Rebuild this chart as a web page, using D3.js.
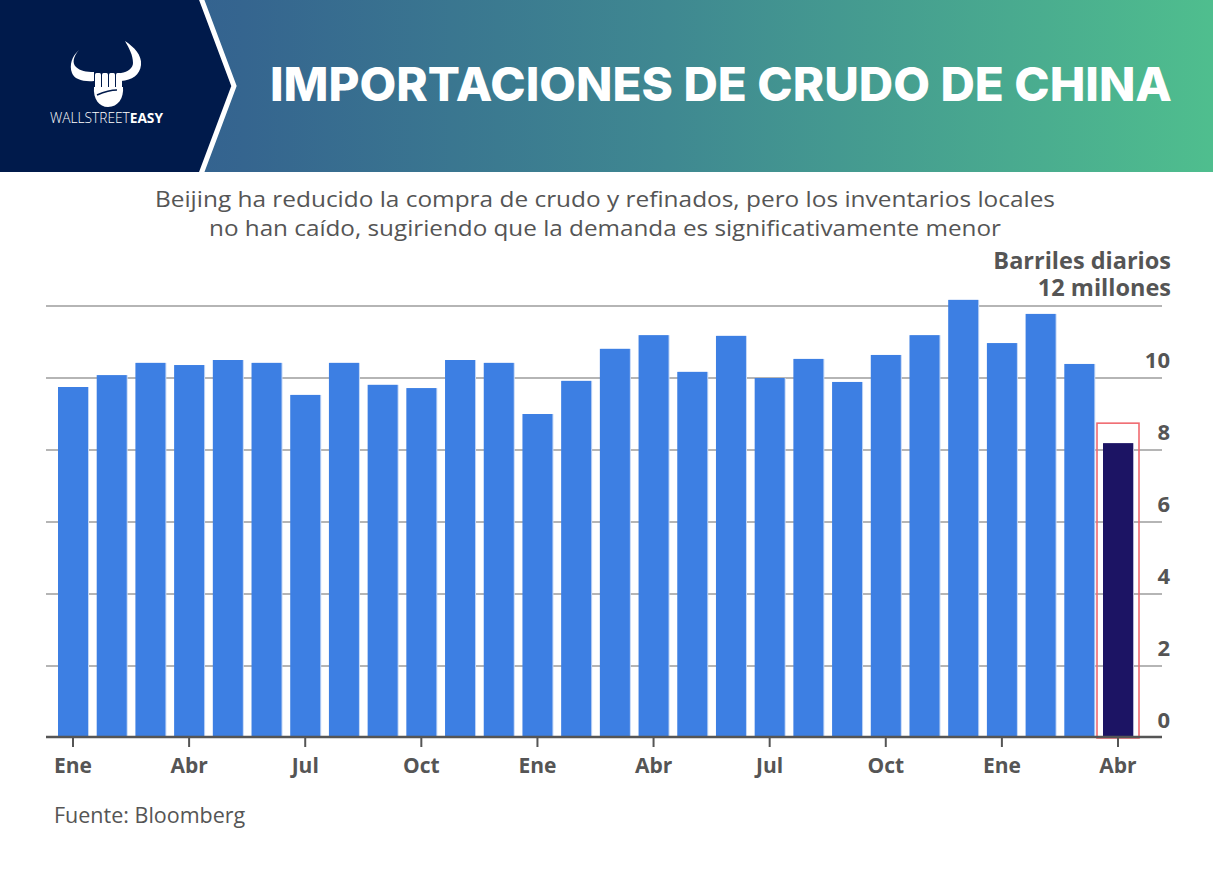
<!DOCTYPE html>
<html>
<head>
<meta charset="utf-8">
<script src="https://cdn.jsdelivr.net/npm/d3@7"></script>
<style>
  html, body { margin: 0; padding: 0; background: #fff; }
  svg { display: block; }
</style>
</head>
<body>
<svg id="chart" width="1213" height="879"></svg>
<script>
// Monthly crude imports, million barrels per day (Jan 2019 - Apr 2021)
const months = [
  '2019-01','2019-02','2019-03','2019-04','2019-05','2019-06',
  '2019-07','2019-08','2019-09','2019-10','2019-11','2019-12',
  '2020-01','2020-02','2020-03','2020-04','2020-05','2020-06',
  '2020-07','2020-08','2020-09','2020-10','2020-11','2020-12',
  '2021-01','2021-02','2021-03','2021-04'
];
const imports = [
  9.75, 10.08, 10.42, 10.36, 10.50, 10.42, 9.53, 10.42, 9.81, 9.72, 10.50, 10.42,
  9.00, 9.92, 10.81, 11.19, 10.17, 11.17, 10.00, 10.53, 9.89, 10.64, 11.19, 12.17,
  10.97, 11.78, 10.39, 8.19
];
const monthNames = { '01': 'Ene', '04': 'Abr', '07': 'Jul', '10': 'Oct' };
const yTicks = [0, 2, 4, 6, 8, 10, 12];
const highlight = '2021-04';

const data = months.map((m, i) => ({ month: m, value: imports[i] }));

const svg = d3.select('#chart');
const W = 1213;

/* ---------- header ---------- */
const defs = svg.append('defs');
const grad = defs.append('linearGradient').attr('id', 'hdr')
  .attr('x1', 0).attr('x2', 1).attr('y1', 0).attr('y2', 0);
grad.append('stop').attr('offset', '0%').attr('stop-color', '#2f5a92');
grad.append('stop').attr('offset', '20%').attr('stop-color', '#35658f');
grad.append('stop').attr('offset', '55%').attr('stop-color', '#3f8891');
grad.append('stop').attr('offset', '100%').attr('stop-color', '#4fbe8e');

svg.append('rect').attr('width', W).attr('height', 172).attr('fill', 'url(#hdr)');
svg.append('path')
  .attr('d', 'M0,0 L200,0 L233,86 L200,172 L0,172 Z')
  .attr('fill', '#001a4b');
svg.append('path')
  .attr('d', 'M201,-2 L234,86 L201,174')
  .attr('fill', 'none').attr('stroke', '#fff').attr('stroke-width', 5);

// logo: horns + fist
const logo = svg.append('g').attr('fill', '#fff');
logo.append('path')
  .attr('d', 'M79,50 C73,57 72,63 76,67 C80,71 86,72 94,72 L94,81 C83,82 74,79 72,73 C69,65 72,56 79,50 Z');
logo.append('path')
  .attr('d', 'M125,41 C134,47 142,55 141,65 C140,75 132,80 121,81 L121,73 C128,72 133,68 133,63 C133,55 129,48 125,41 Z');
[95, 102, 109, 116].forEach(xx => {
  logo.append('rect').attr('x', xx).attr('y', 73).attr('width', 6).attr('height', 15).attr('rx', 1.5);
});
logo.append('path')
  .attr('d', 'M94,87 L123,87 C124,98 118,107 108,107 C99,107 93,99 94,87 Z');
logo.append('path')
  .attr('d', 'M97,95 C104,92 110,90 117,90')
  .attr('fill', 'none').attr('stroke', '#001a4b').attr('stroke-width', 1.6);
const brand = svg.append('text')
  .attr('x', 50).attr('y', 123)
  .attr('textLength', 113).attr('lengthAdjust', 'spacingAndGlyphs')
  .attr('font-family', 'Open Sans').attr('font-size', 14).attr('fill', '#fff');
brand.append('tspan').attr('font-weight', 300).text('WALLSTREET');
brand.append('tspan').attr('font-weight', 700).text('EASY');

svg.append('text')
  .attr('x', 270).attr('y', 101)
  .attr('textLength', 902).attr('lengthAdjust', 'spacingAndGlyphs')
  .attr('font-family', 'Inter').attr('font-weight', 800).attr('font-size', 47)
  .attr('fill', '#fff')
  .text('IMPORTACIONES DE CRUDO DE CHINA');

/* ---------- subtitle ---------- */
const sub = [
  'Beijing ha reducido la compra de crudo y refinados, pero los inventarios locales',
  'no han caído, sugiriendo que la demanda es significativamente menor'
];
const subWidth = [900, 792];
svg.selectAll('.sub').data(sub).enter().append('text')
  .attr('class', 'sub')
  .attr('x', 605).attr('y', (d, i) => 207 + i * 29)
  .attr('text-anchor', 'middle')
  .attr('textLength', (d, i) => subWidth[i]).attr('lengthAdjust', 'spacingAndGlyphs')
  .attr('font-family', 'Open Sans').attr('font-weight', 500).attr('font-size', 21.5)
  .attr('fill', '#555')
  .text(d => d);

/* ---------- chart ---------- */
const x = d3.scaleBand().domain(months).range([58, 1133]).paddingInner(0.225).paddingOuter(0);
const y = d3.scaleLinear().domain([0, 12]).range([738, 306]);
const gridLeft = 46, gridRight = 1162;

svg.append('g').selectAll('line')
  .data(yTicks.filter(t => t > 0)).enter().append('line')
    .attr('x1', gridLeft).attr('x2', gridRight)
    .attr('y1', d => y(d)).attr('y2', d => y(d))
    .attr('stroke', '#b5b5b5').attr('stroke-width', 2);

// subtle light edge on the right of each bar
svg.append('g').selectAll('rect')
  .data(data).enter().append('rect')
    .attr('x', d => x(d.month) + 1)
    .attr('y', d => y(d.value))
    .attr('width', x.bandwidth())
    .attr('height', d => y(0) - y(d.value))
    .attr('fill', d => d.month === highlight ? '#b9b6d6' : '#c3d7f6');

svg.append('g').selectAll('rect')
  .data(data).enter().append('rect')
    .attr('x', d => x(d.month))
    .attr('y', d => y(d.value))
    .attr('width', x.bandwidth())
    .attr('height', d => y(0) - y(d.value))
    .attr('fill', d => d.month === highlight ? '#1c1464' : '#3d7fe3');

// highlight box
const hl = data.find(d => d.month === highlight);
svg.append('rect')
  .attr('x', x(hl.month) - 6)
  .attr('y', y(hl.value) - 20)
  .attr('width', x.bandwidth() + 12)
  .attr('height', y(0) - y(hl.value) + 20)
  .attr('fill', 'none').attr('stroke', '#f06a70').attr('stroke-width', 1.6);

// x axis
const xTickVals = months.filter(m => monthNames[m.slice(5)]);
const xAxis = svg.append('g')
  .attr('transform', `translate(0,${y(0) - 1})`)
  .call(d3.axisBottom(x).tickValues(xTickVals).tickSize(10).tickPadding(11)
    .tickFormat(m => monthNames[m.slice(5)]));
xAxis.select('.domain').remove();
xAxis.selectAll('.tick line').attr('stroke', '#555').attr('stroke-width', 2).attr('y1', 1);
xAxis.selectAll('.tick text')
  .attr('font-family', 'Open Sans').attr('font-weight', 700).attr('font-size', 21)
  .attr('fill', '#555');
svg.append('line')
  .attr('x1', gridLeft).attr('x2', gridRight)
  .attr('y1', y(0) - 1).attr('y2', y(0) - 1)
  .attr('stroke', '#555').attr('stroke-width', 2.5);

// y labels (right side, sitting above gridlines)
svg.append('g').selectAll('text')
  .data(yTicks.filter(t => t < 12)).enter().append('text')
    .attr('x', 1170).attr('y', d => y(d) - 10)
    .attr('text-anchor', 'end')
    .attr('font-family', 'Open Sans').attr('font-weight', 700).attr('font-size', 22)
    .attr('fill', '#555')
    .text(d => d);

const unit = svg.append('text')
  .attr('text-anchor', 'end')
  .attr('font-family', 'Open Sans').attr('font-weight', 700).attr('font-size', 23.5)
  .attr('fill', '#555');
['Barriles diarios', '12 millones'].forEach((t, i) => {
  unit.append('tspan').attr('x', 1171).attr('y', 269 + i * 27).text(t);
});

svg.append('text')
  .attr('x', 54).attr('y', 823)
  .attr('font-family', 'Open Sans').attr('font-size', 21.5).attr('fill', '#555')
  .text('Fuente: Bloomberg');
</script>
</body>
</html>
